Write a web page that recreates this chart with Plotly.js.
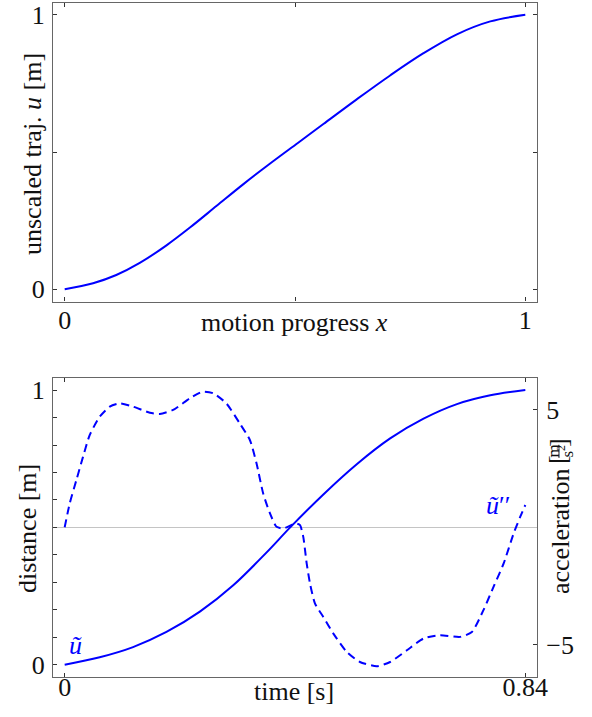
<!DOCTYPE html>
<html>
<head>
<meta charset="utf-8">
<script src="https://cdn.plot.ly/plotly-3.0.1.min.js"></script>
</head>
<body style="margin:0">
<div id="chart" style="width:592px;height:717px;"></div>
<script>
// ---- top panel: unscaled trajectory u over motion progress x ----
const progress = [0, 0.0616, 0.112, 0.163, 0.221, 0.272, 0.330, 0.388, 0.446, 0.507, 0.5616, 0.634, 0.7065, 0.779, 0.8515, 0.924, 1];
const unscaledTraj = [0, 0.022, 0.052, 0.096, 0.160, 0.225, 0.304, 0.383, 0.458, 0.534, 0.602, 0.692, 0.779, 0.860, 0.929, 0.976, 1];

// ---- bottom panel: distance over time ----
const timeDist = [0, 0.0639, 0.1247, 0.1856, 0.2465, 0.3074, 0.3683, 0.4108, 0.4717, 0.5326, 0.5935, 0.6544, 0.7153, 0.7762, 0.84];
const distance = [0, 0.027, 0.064, 0.119, 0.193, 0.289, 0.409, 0.499, 0.620, 0.730, 0.824, 0.896, 0.949, 0.981, 1];

// ---- bottom panel: acceleration over time ----
const timeAcc = [0, 0.0092, 0.0213, 0.0334, 0.0456, 0.0638, 0.0822, 0.1005, 0.1247, 0.1554, 0.1735, 0.1978,
  0.2285, 0.252, 0.2709, 0.2948, 0.3192, 0.3377, 0.3499, 0.362, 0.3744, 0.3864, 0.3987, 0.4158, 0.423, 0.4292,
  0.4351, 0.4413, 0.4474, 0.4565, 0.4717, 0.49, 0.5144, 0.5384, 0.5692, 0.5935, 0.624, 0.6544, 0.6846, 0.7213,
  0.7426, 0.7636, 0.782, 0.8005, 0.8187, 0.8308, 0.84];
const acceleration = [0, 1.02, 2.01, 3.0, 3.93, 4.71, 5.14, 5.28, 5.14, 4.88, 4.83, 5.0,
  5.5, 5.78, 5.71, 5.28, 4.43, 3.72, 2.72, 1.44, 0.59, 0.02, -0.05, 0.12, 0.16, 0.09,
  -0.41, -1.54, -2.4, -3.25, -3.82, -4.53, -5.31, -5.74, -5.92, -5.74, -5.24, -4.74, -4.6, -4.67,
  -4.46, -3.53, -2.54, -1.54, -0.26, 0.45, 0.95];

// ---- ticks ----
const topXTicks = [0, 0.5, 1];
const topXLabels = ['0', '', '1'];
const topYTicks = [0, 0.5, 1];
const topYLabels = ['0', '', '1'];
const timeTicks = [0, 0.84];
const timeLabels = ['0', '0.84'];
const distTicks = [0, 0.1, 0.2, 0.3, 0.4, 0.5, 0.6, 0.7, 0.8, 0.9, 1];
const distLabels = ['0', '', '', '', '', '', '', '', '', '', '1'];
const accTicks = [-5, 5];
const accLabels = ['\u22125', '5'];

const FONT = 'serif';
const BLUE = '#0000ff';
const FRAME = '#666666';
const TXT = '#111111';

const axisBase = {
  showgrid: false, zeroline: false, showline: true, linecolor: FRAME, linewidth: 1.3,
  ticks: 'inside', ticklen: 4, tickcolor: '#333', tickwidth: 1,
  tickfont: {family: FONT, size: 26, color: TXT}
};

const traces = [
  {x: progress, y: unscaledTraj, xaxis: 'x', yaxis: 'y', mode: 'lines',
   line: {color: BLUE, width: 2, shape: 'spline', smoothing: 1}, hoverinfo: 'skip'},
  {x: timeDist, y: distance, xaxis: 'x2', yaxis: 'y3', mode: 'lines',
   line: {color: BLUE, width: 2, shape: 'spline', smoothing: 1}, hoverinfo: 'skip'},
  {x: timeAcc, y: acceleration, xaxis: 'x2', yaxis: 'y4', mode: 'lines',
   line: {color: BLUE, width: 2, dash: '8px,5px', shape: 'spline', smoothing: 0.6}, hoverinfo: 'skip'}
];

// pixel -> paper helpers (plot area: x 53..537, y 3..677)
const px = X => (X - 53) / 484;
const py = Y => (677 - Y) / 674;

function label(X, Y, text, opts) {
  return Object.assign({xref: 'paper', yref: 'paper', x: px(X), y: py(Y), text: text,
    showarrow: false, xanchor: 'center', yanchor: 'middle',
    font: {family: FONT, size: 26, color: TXT}}, opts || {});
}

const layout = {
  width: 592, height: 717,
  margin: {l: 53, r: 55, t: 3, b: 40},
  paper_bgcolor: '#fff', plot_bgcolor: '#fff',
  showlegend: false,
  font: {family: FONT, size: 26, color: TXT},
  xaxis: Object.assign({}, axisBase, {
    domain: [0, 1], anchor: 'y', range: [-0.0254, 1.0254],
    tickvals: topXTicks, ticktext: topXLabels, mirror: 'ticks', ticklabelstandoff: -5
  }),
  yaxis: Object.assign({}, axisBase, {
    domain: [0.557, 1], anchor: 'x', range: [-0.045, 1.043],
    tickvals: topYTicks, ticktext: topYLabels, mirror: 'ticks', ticklabelstandoff: 2
  }),
  xaxis2: Object.assign({}, axisBase, {
    domain: [0, 1], anchor: 'y3', range: [-0.0213, 0.8613],
    tickvals: timeTicks, ticktext: timeLabels, mirror: 'ticks', ticklabelstandoff: -13
  }),
  yaxis3: Object.assign({}, axisBase, {
    domain: [0, 0.4432], anchor: 'x2', range: [-0.045, 1.043],
    tickvals: distTicks, ticktext: distLabels, mirror: true, ticklabelstandoff: 2
  }),
  yaxis4: Object.assign({}, axisBase, {
    overlaying: 'y3', side: 'right', anchor: 'x2', range: [-6.38, 6.35],
    tickvals: accTicks, ticktext: accLabels, ticklabelstandoff: 3,
    zeroline: true, zerolinecolor: '#c4c4c4', zerolinewidth: 1
  }),
  annotations: [
    label(294, 322, 'motion progress <i>x</i>'),
    label(32, 154, 'unscaled traj. <i>u</i> [m]', {textangle: -90}),
    label(294, 691, 'time [s]'),
    label(27, 529, 'distance [m]', {textangle: -90}),
    label(560, 531, 'acceleration', {textangle: -90}),
    label(558, 460, '[', {textangle: -90}),
    label(558, 443, ']', {textangle: -90}),
    label(553, 451.5, 'm', {textangle: -90, font: {family: FONT, size: 17, color: TXT}}),
    label(565, 451.5, 's<sup>2</sup>', {textangle: -90, font: {family: FONT, size: 17, color: TXT}}),
    label(75.5, 645, '<i>ũ</i>', {font: {family: FONT, size: 26, color: BLUE}}),
    label(498, 505, '<i>ũ</i>′′', {font: {family: FONT, size: 26, color: BLUE}})
  ],
  shapes: [
    {type: 'line', xref: 'paper', yref: 'paper', x0: px(559), x1: px(559), y0: py(445), y1: py(458),
     line: {color: TXT, width: 0.8}}
  ]
};

Plotly.newPlot('chart', traces, layout, {displayModeBar: false});
</script>
</body>
</html>
